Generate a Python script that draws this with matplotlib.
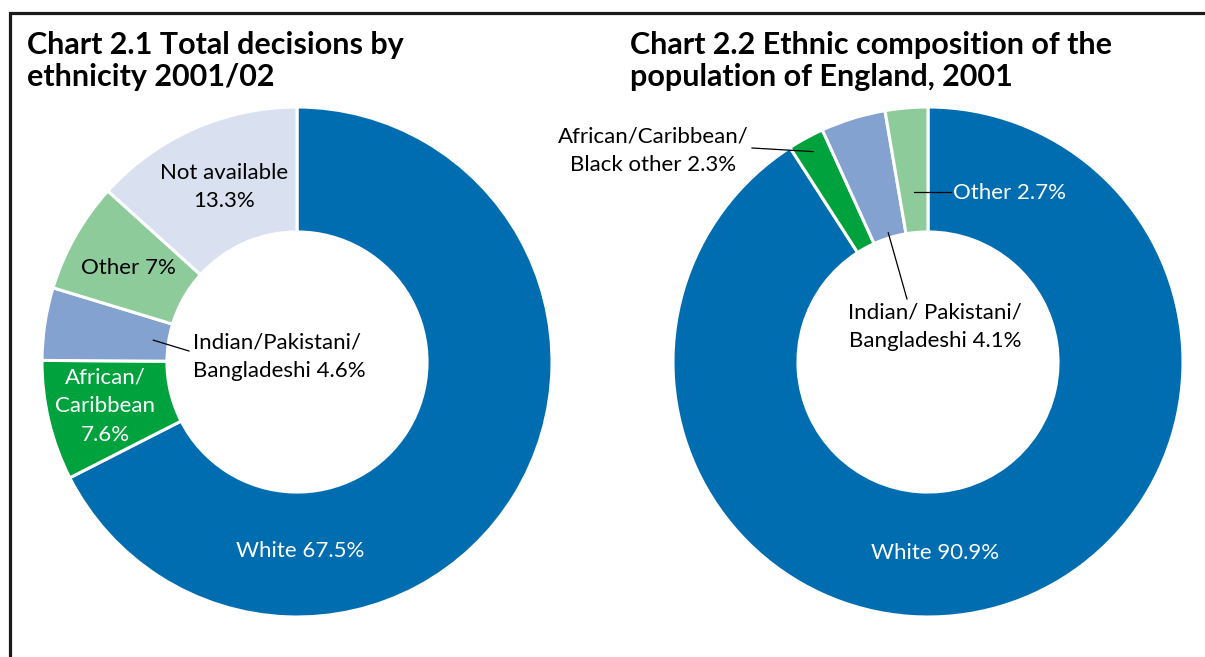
import matplotlib

matplotlib.use("Agg")
import matplotlib.pyplot as plt
import numpy as np

W, H = 1205, 657

# Chart 2.1: total decisions by ethnicity, 2001/02
decision_groups = ["White", "African/\nCaribbean", "Indian/Pakistani/\nBangladeshi", "Other", "Not available\n"]
decision_share = [67.5, 7.6, 4.6, 7.0, 13.3]

# Chart 2.2: ethnic composition of the population of England, 2001
population_groups = ["White", "African/Caribbean/\nBlack other", "Indian/ Pakistani/\nBangladeshi", "Other"]
population_share = [90.9, 2.3, 4.1, 2.7]

decision_colours = ["#006db0", "#00a23e", "#84a2cf", "#8ecb9b", "#d9e0ef"]
population_colours = ["#006db0", "#00a23e", "#84a2cf", "#8ecb9b"]

TITLE_FONT = ["Lato", "DejaVu Sans"]
LABEL_FONT = ["Lato", "DejaVu Sans"]

RADIUS = 255
HOLE = 0.51
CENTRES = [(297, H - 362), (928, H - 362)]


def y(v):
    return H - v


def label(v):
    return f"{v:g}%"


def wedge_point(wedge, frac):
    """Point at the wedge's mid-angle, frac of the outer radius from the centre."""
    ang = np.deg2rad((wedge.theta1 + wedge.theta2) / 2)
    cx, cy = wedge.center
    return cx + frac * wedge.r * np.cos(ang), cy + frac * wedge.r * np.sin(ang)


fig = plt.figure(figsize=(W / 100, H / 100), dpi=100)
ax = fig.add_axes([0, 0, 1, 1])

wedges1, _ = ax.pie(decision_share, colors=decision_colours, startangle=90, counterclock=False,
                    center=CENTRES[0], radius=RADIUS,
                    wedgeprops=dict(width=RADIUS * (1 - HOLE), edgecolor="white", linewidth=2.2))
wedges2, _ = ax.pie(population_share, colors=population_colours, startangle=90, counterclock=False,
                    center=CENTRES[1], radius=RADIUS,
                    wedgeprops=dict(width=RADIUS * (1 - HOLE), edgecolor="white", linewidth=2.2))

ax.set_xlim(0, W)
ax.set_ylim(0, H)
ax.set_aspect("equal")
ax.axis("off")

# frame round the panel
ax.plot([9.5, 9.5, W], [0, y(12.5), y(12.5)], color="#1a1a1a", lw=2.3, solid_capstyle="butt",
        solid_joinstyle="miter")

# titles
tkw = dict(fontsize=22, fontweight="bold", family=TITLE_FONT, va="baseline", ha="left", color="black")
ax.text(27, y(54), "Chart 2.1 Total decisions by", **tkw)
ax.text(27, y(86), "ethnicity 2001/02", **tkw)
ax.text(630, y(54), "Chart 2.2 Ethnic composition of the", **tkw)
ax.text(630, y(86), "population of England, 2001", **tkw)

lkw = dict(fontsize=16, family=LABEL_FONT, linespacing=1.55)
lead = dict(color="black", lw=0.9)

# --- chart 2.1 labels ---
ax.text(300, y(551), f"{decision_groups[0]} {label(decision_share[0])}", color="white",
        ha="center", va="center", **lkw)
ax.text(105, y(406), f"{decision_groups[1]}\n{label(decision_share[1])}", color="white",
        ha="center", va="center", **lkw)
ax.text(193, y(357), f"{decision_groups[2]} {label(decision_share[2])}", color="black",
        ha="left", va="center", **lkw)
p = wedge_point(wedges1[2], 0.57)
ax.plot([p[0], 189], [p[1], y(351)], **lead)
ax.text(128, y(268), f"{decision_groups[3]} {label(decision_share[3])}", color="black",
        ha="center", va="center", **lkw)
ax.text(224, y(187), f"{decision_groups[4]}{label(decision_share[4])}", color="black",
        ha="center", va="center", **lkw)

# --- chart 2.2 labels ---
ax.text(935, y(553), f"{population_groups[0]} {label(population_share[0])}", color="white",
        ha="center", va="center", **lkw)
ax.text(653, y(151), f"{population_groups[1]} {label(population_share[1])}", color="black",
        ha="center", va="center", **lkw)
p = wedge_point(wedges2[1], 0.94)
ax.plot([p[0], 752], [p[1], y(148)], **lead)
ax.text(935, y(327), f"{population_groups[2]} {label(population_share[2])}", color="black",
        ha="center", va="center", **lkw)
p = wedge_point(wedges2[2], 0.53)
ax.plot([p[0], 907], [p[1], y(299)], **lead)
ax.text(953, y(193), f"{population_groups[3]} {label(population_share[3])}", color="white",
        ha="left", va="center", **lkw)
p = wedge_point(wedges2[3], 0.67)
ax.plot([p[0], 951], [y(192), y(192)], **lead)

fig.savefig("out.png", dpi=100, facecolor="white")
